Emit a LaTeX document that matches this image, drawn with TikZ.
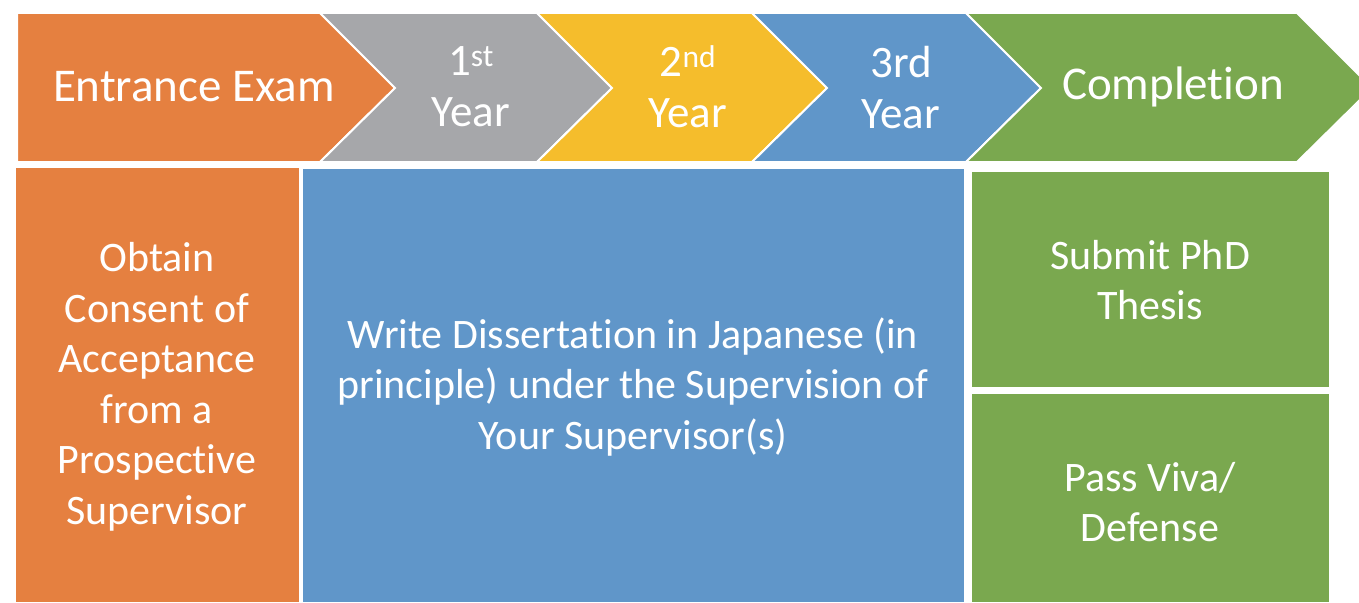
\documentclass[tikz,border=0pt]{standalone}
\usepackage{fontspec}
\setmainfont{Carlito}
\newcommand{\tibreak}{t\kern0pt i}
\definecolor{corange}{HTML}{E58040}
\definecolor{cgray}{HTML}{A6A7AA}
\definecolor{cyellow}{HTML}{F5BD2C}
\definecolor{cblue}{HTML}{6096C9}
\definecolor{cgreen}{HTML}{7AA84F}
\begin{document}
\begin{tikzpicture}[x=1pt,y=-1pt,
  chev/.style={draw=white,line width=2pt,line join=miter},
  lbl/.style={text=white,align=center,inner sep=0pt},
  bigtxt/.style={font=\fontsize{47}{56}\selectfont},
  yeartxt/.style={font=\fontsize{45}{51}\selectfont},
  boxtxt/.style={font=\fontsize{42}{50.5}\selectfont}]
\useasboundingbox (0,0) rectangle (1359,602);
\begin{scope}
\clip (0,0) rectangle (1359,602);
\fill[corange,chev] (17,13) -- (320,13) -- (395,88) -- (320,162) -- (17,162) -- cycle;
\fill[cgray,chev] (320,13) -- (537,13) -- (612,88) -- (537,162) -- (320,162) -- (395,88) -- cycle;
\fill[cyellow,chev] (537,13) -- (752,13) -- (827,88) -- (752,162) -- (537,162) -- (612,88) -- cycle;
\fill[cblue,chev] (752,13) -- (966,13) -- (1041,88) -- (966,162) -- (752,162) -- (827,88) -- cycle;
\fill[cgreen,chev] (966,13) -- (1297,13) -- (1372,88) -- (1297,162) -- (966,162) -- (1041,88) -- cycle;
\end{scope}
\fill[corange] (16,168) rectangle (299,602);
\fill[cblue] (303,169) rectangle (964,602);
\fill[cgreen] (972,172) rectangle (1329,387);
\fill[cgreen] (972,394) rectangle (1329,602);
\node[lbl,bigtxt] (entr) at (194,87) {Entrance Exam};
\node[lbl,yeartxt] (y1) at (471,87) {1\textsuperscript{st}\\Year};
\node[lbl,yeartxt] (y2) at (688,87) {2\textsuperscript{nd}\\Year};
\node[lbl,yeartxt] (y3) at (901,88) {3rd\\Year};
\node[lbl,bigtxt] (comp) at (1173,87) {Comple\tibreak on};
\node[lbl,boxtxt] (obt) at (157,387) {Obtain\\Consent of\\Acceptance\\from a\\Prospec\tibreak ve\\Supervisor};
\node[lbl,boxtxt] (wri) at (633,387) {Write Disserta\tibreak on in Japanese (in\\principle) under the Supervision of\\Your Supervisor(s)};
\node[lbl,boxtxt] (sub) at (1150,280) {Submit PhD\\Thesis};
\node[lbl,boxtxt] (pas) at (1150,502) {Pass Viva/\\Defense};
\end{tikzpicture}
\end{document}
